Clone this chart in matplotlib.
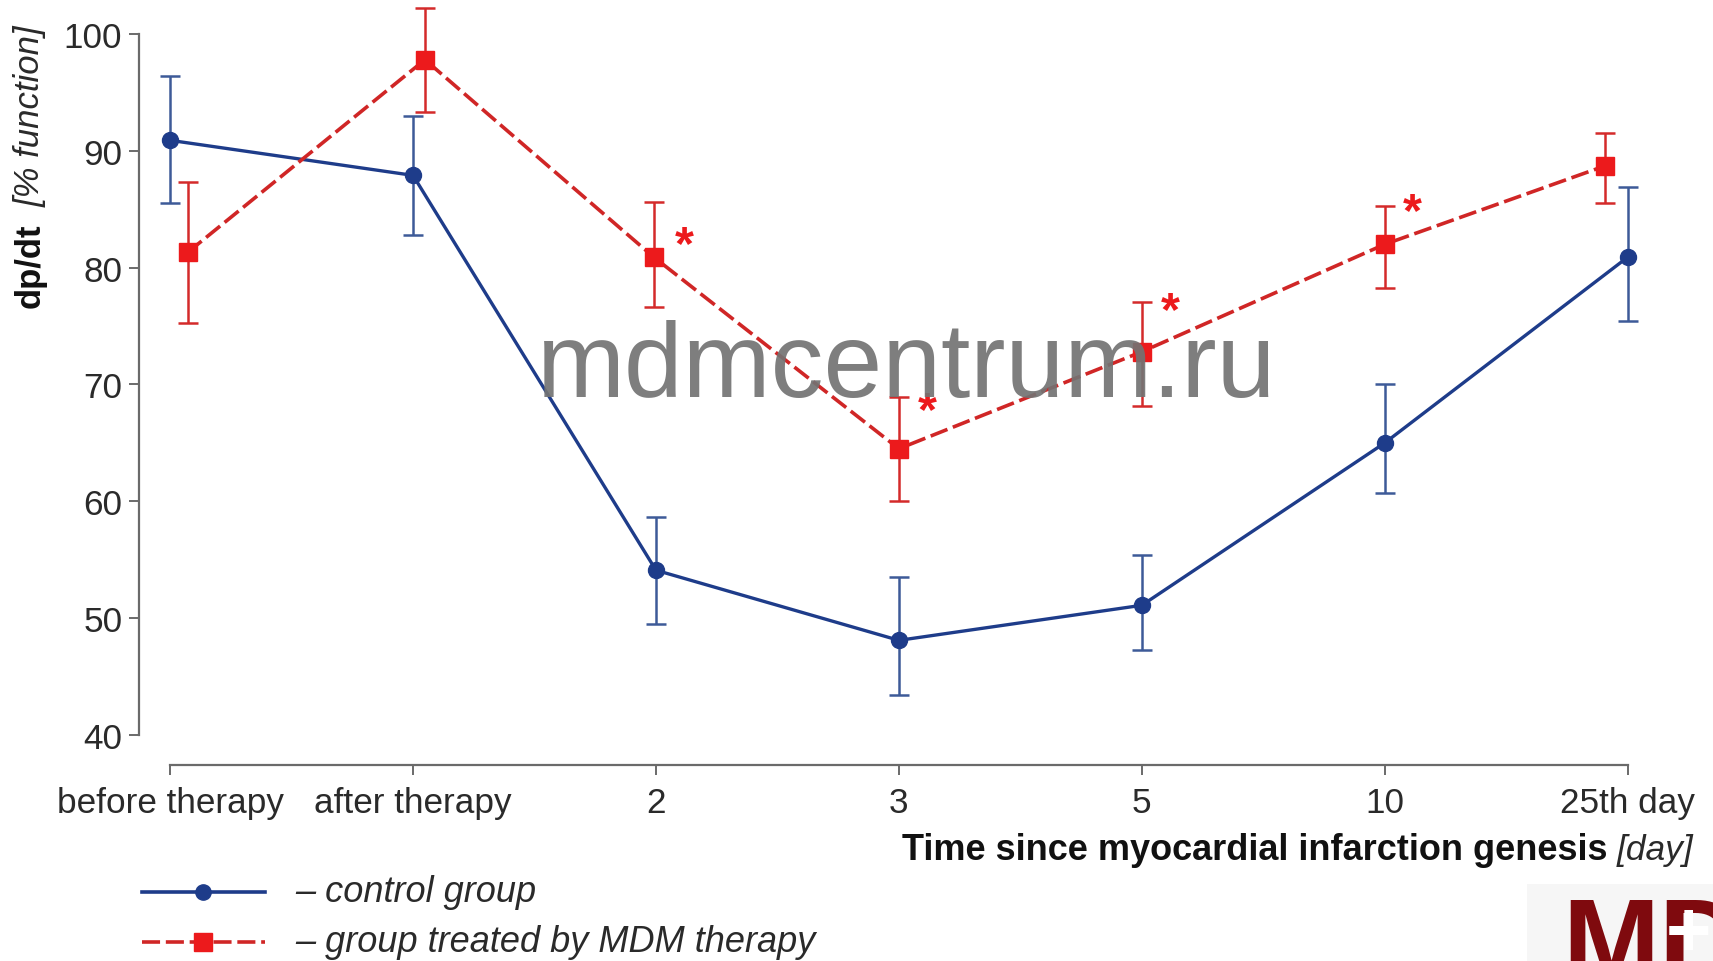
import numpy as np
import matplotlib
matplotlib.use("Agg")
import matplotlib.pyplot as plt
from matplotlib.lines import Line2D
from matplotlib.patches import Rectangle

plt.rcParams['font.family'] = ['Liberation Sans', 'DejaVu Sans']

# ---- data ----
categories = ["before therapy", "after therapy", "2", "3", "5", "10", "25th day"]

control_mean = [90.9, 87.9, 54.1, 48.1, 51.1, 65.0, 80.9]
control_high = [96.4, 93.0, 58.7, 53.5, 55.4, 70.0, 86.9]
control_low  = [85.5, 82.8, 49.5, 43.4, 47.3, 60.7, 75.4]

treated_mean = [81.3, 97.8, 80.9, 64.5, 72.8, 82.0, 88.7]
treated_high = [87.3, 102.2, 85.6, 68.9, 77.1, 85.3, 91.5]
treated_low  = [75.3, 93.3, 76.6, 60.0, 68.2, 78.3, 85.5]
treated_dx   = [0.072, 0.049, -0.009, 0.0, 0.0, 0.0, -0.095]

star_idx = [2, 3, 4, 5]
star_y   = [82.6, 68.4, 77.0, 85.4]

yticks = [40, 50, 60, 70, 80, 90, 100]

# ---- style ----
W, H = 1713, 962
BLUE = "#1e3c8a"
BLUE_ERR = "#3d5a98"
RED = "#ec1a1c"
RED_LINE = "#d02626"
RED_ERR = "#d42a2a"
TXT = "#2a2a2a"
SPINE = "#6a6a6a"
DASH = (0, (5.0, 1.6))

fig = plt.figure(figsize=(W / 100, H / 100), dpi=100)
fig.patch.set_facecolor("white")

def fx(px):
    return px / W

def fy(py):
    return 1 - py / H

ax = fig.add_axes([fx(139), fy(766), fx(1652) - fx(139), fy(2.3) - fy(766)])
ax.set_xlim(-0.128, 6.1)
ax.set_ylim(37.43, 102.8)

x = np.arange(len(categories))
cm = np.array(control_mean)
tm = np.array(treated_mean)

ax.errorbar(x, cm, yerr=[cm - np.array(control_low), np.array(control_high) - cm],
            fmt="none", ecolor=BLUE_ERR, elinewidth=1.8, capsize=7, capthick=1.8, zorder=2)
ax.plot(x, cm, color=BLUE, lw=2.4, marker="o", ms=11.5, mfc=BLUE, mec=BLUE, zorder=3)

xt = x + np.array(treated_dx)
ax.errorbar(xt, tm, yerr=[tm - np.array(treated_low), np.array(treated_high) - tm],
            fmt="none", ecolor=RED_ERR, elinewidth=1.8, capsize=7, capthick=1.8, zorder=4)
ax.plot(xt, tm, color=RED_LINE, lw=2.6, ls=DASH, zorder=5)
ax.plot(xt, tm, ls="none", marker="s", ms=13, mfc=RED, mec=RED, zorder=6)

for i, yv in zip(star_idx, star_y):
    ax.annotate("*", xy=(i + 0.115, yv), xytext=(0, -6), textcoords="offset points",
                color=RED, fontsize=35, fontweight="bold",
                ha="center", va="center", zorder=7)

# axes styling
for s in ["top", "right"]:
    ax.spines[s].set_visible(False)
ax.spines["left"].set_bounds(40, 100)
ax.spines["bottom"].set_bounds(0, 6)
for s in ["left", "bottom"]:
    ax.spines[s].set_color(SPINE)
    ax.spines[s].set_linewidth(1.6)

ax.set_yticks(yticks)
ax.set_yticklabels([str(v) for v in yticks])
ax.set_xticks(x)
ax.set_xticklabels(categories)
ax.tick_params(axis="both", colors=SPINE, labelcolor=TXT, labelsize=25.3,
               length=7, width=1.4, direction="out")
ax.tick_params(axis="x", pad=8)
ax.tick_params(axis="y", pad=5)
ax.patch.set_visible(False)

# y label
fig.text(fx(30), fy(308), "dp/dt", rotation=90, fontsize=25, fontweight="bold",
         color="#111111", ha="center", va="bottom")
fig.text(fx(30), fy(207), "[% function]", rotation=90, fontsize=25, style="italic",
         color=TXT, ha="center", va="bottom")

# x label
fig.text(fx(1607), fy(851), "Time since myocardial infarction genesis", fontsize=26,
         fontweight="bold", color="#111111", ha="right", va="center")
fig.text(fx(1617), fy(851), "[day]", fontsize=25.5, style="italic",
         color=TXT, ha="left", va="center")

# legend (manual)
def legend_entry(y_px, color, ls, marker, ms, mcolor, label, lw):
    fig.add_artist(Line2D([fx(142), fx(265)], [fy(y_px), fy(y_px)], transform=fig.transFigure,
                          color=color, lw=lw, ls=ls))
    fig.add_artist(Line2D([fx(203)], [fy(y_px)], transform=fig.transFigure,
                          marker=marker, ms=ms, ls="none", mfc=mcolor, mec=mcolor))
    fig.text(fx(295), fy(y_px), label, fontsize=26, style="italic", color=TXT,
             ha="left", va="center")

legend_entry(893, BLUE, "-", "o", 11, BLUE, "\u2013 control group", 2.6)
legend_entry(943, RED_LINE, DASH, "s", 13, RED, "\u2013 group treated by MDM therapy", 2.6)

# watermark
fig.text(fx(907), fy(369), "mdmcentrum.ru", fontsize=76, color="#737373", alpha=0.92,
         ha="center", va="center", zorder=20)

# logo (bottom right)
fig.add_artist(Rectangle((fx(1527), 0), fx(W) - fx(1527), fy(885), transform=fig.transFigure,
                         facecolor="#f6f6f6", edgecolor="none", zorder=0))
fig.text(fx(1562), fy(981), "MD", fontsize=84, fontweight="bold", color="#7f0a0e",
         ha="left", va="baseline", zorder=21)
fig.text(fx(1688), fy(936), "+", fontsize=56, fontweight="bold", color="white",
         ha="center", va="center", zorder=22)

fig.savefig("out.png", dpi=100)
